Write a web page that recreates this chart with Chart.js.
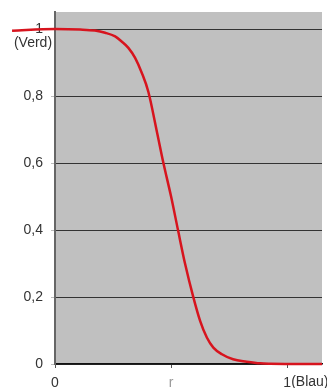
<!DOCTYPE html>
<html><head><meta charset="utf-8">
<script src="https://cdn.jsdelivr.net/npm/chart.js@4/dist/chart.umd.min.js"></script>
<style>html,body{margin:0;padding:0;background:#fff}#w{width:327px;height:388px}</style>
</head><body><div id="w"><canvas id="c" width="327" height="388"></canvas></div>
<script>
const xValues = [-0.185, 0, 0.108, 0.172, 0.216, 0.259, 0.287, 0.316, 0.345, 0.374, 0.402, 0.44, 0.466, 0.5, 0.53, 0.56, 0.596, 0.625, 0.654, 0.682, 0.719, 0.767, 0.826, 0.884, 0.927, 1.15];
const yValues = [0.995, 1.0, 0.9985, 0.9955, 0.989, 0.978, 0.963, 0.944, 0.914, 0.869, 0.813, 0.69, 0.603, 0.5, 0.399, 0.3, 0.199, 0.129, 0.079, 0.049, 0.029, 0.014, 0.007, 0.002, 0.001, 0];
const yTicks = [0, 0.2, 0.4, 0.6, 0.8, 1];
const yTickLabels = ['0', '0,2', '0,4', '0,6', '0,8', '1'];
const xTicks = [0, 0.5, 1];
const xTickLabels = ['0', 'r', '1'];
const yExtra = '(Verd)';
const xExtra = '(Blau)';

const FONT = '"Liberation Sans", Arial, sans-serif';
const bgPlugin = {
  id: 'bg',
  beforeDraw(chart) {
    const {ctx, chartArea: a} = chart;
    ctx.save();
    ctx.fillStyle = '#c0c0c0';
    ctx.fillRect(a.left, a.top, a.right - a.left, a.bottom - a.top);
    ctx.restore();
  },
  afterDraw(chart) {
    const {ctx} = chart;
    const ys = chart.scales.y, xs = chart.scales.x;
    ctx.save();
    ctx.font = '14px ' + FONT;
    ctx.fillStyle = '#333';
    ctx.textBaseline = 'middle';
    ctx.textAlign = 'center';
    ctx.fillText(yExtra, 33, ys.getPixelForValue(1) + 14);
    ctx.textAlign = 'left';
    ctx.fillText(xExtra, xs.getPixelForValue(1) + 4, 382);
    ctx.restore();
  }
};

new Chart(document.getElementById('c'), {
  type: 'line',
  data: {
    datasets: [{
      data: xValues.map((x, i) => ({x, y: yValues[i]})),
      borderColor: 'rgb(215,20,30)',
      borderWidth: 2.5,
      pointRadius: 0,
      cubicInterpolationMode: 'monotone',
      clip: false
    }]
  },
  options: {
    responsive: false,
    animation: false,
    layout: {padding: {top: 12, right: 5, left: 0, bottom: 0}},
    plugins: {legend: {display: false}, tooltip: {enabled: false}},
    scales: {
      x: {
        type: 'linear', min: 0, max: 1.15,
        afterBuildTicks: s => { s.ticks = xTicks.map(v => ({value: v})); },
        afterFit: s => { s.height = 24; s.paddingLeft = 0; s.paddingRight = 0; },
        grid: {display: true, drawOnChartArea: false, drawTicks: true, tickLength: 4, color: '#555', tickColor: '#555'},
        border: {display: true, color: '#111', width: 1.5},
        ticks: {
          padding: 7, maxRotation: 0, autoSkip: false,
          font: {size: 14, family: FONT},
          color: ctx => ctx.index === 1 ? '#999' : '#333',
          callback: (v, i) => xTickLabels[i]
        }
      },
      y: {
        type: 'linear', min: 0, max: 1.051,
        afterBuildTicks: s => { s.ticks = yTicks.map(v => ({value: v})); },
        afterFit: s => { s.width = 55; s.paddingTop = 0; s.paddingBottom = 0; },
        grid: {color: '#333', lineWidth: 1, tickLength: 4, tickColor: '#bbb'},
        border: {display: true, color: '#666', width: 2},
        ticks: {
          padding: 8, autoSkip: false,
          font: {size: 14, family: FONT},
          color: '#333',
          callback: (v, i) => yTickLabels[i]
        }
      }
    }
  },
  plugins: [bgPlugin]
});
</script></body></html>
